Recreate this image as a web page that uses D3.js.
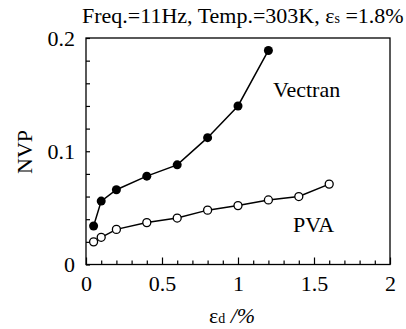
<!DOCTYPE html>
<html><head><meta charset="utf-8">
<script src="https://cdn.jsdelivr.net/npm/d3@7"></script>
<style>
body{margin:0;background:#fff;}
</style></head>
<body>
<svg id="c" width="406" height="329"></svg>
<script>
const vectranX = [0.05, 0.1, 0.2, 0.4, 0.6, 0.8, 1.0, 1.2];
const vectranY = [0.034, 0.056, 0.066, 0.078, 0.088, 0.112, 0.140, 0.189];
const pvaX = [0.05, 0.1, 0.2, 0.4, 0.6, 0.8, 1.0, 1.2, 1.4, 1.6];
const pvaY = [0.020, 0.024, 0.031, 0.037, 0.041, 0.048, 0.052, 0.057, 0.060, 0.071];
const xTicks = [0, 0.5, 1, 1.5, 2];
const xTickLabels = ["0", "0.5", "1", "1.5", "2"];
const yTicks = [0, 0.1, 0.2];
const yTickLabels = ["0", "0.1", "0.2"];

const FONT = "'Liberation Serif'";
const svg = d3.select("#c");
const L = 86, R = 390, T = 38, B = 264.5;
const x = d3.scaleLinear().domain([0, 2]).range([L, R]);
const y = d3.scaleLinear().domain([0, 0.2]).range([B, T]);

// frame
svg.append("rect").attr("x", L).attr("y", T).attr("width", R - L).attr("height", B - T)
  .attr("fill", "none").attr("stroke", "#000").attr("stroke-width", 1.3);

// x axis ticks (inward)
const xMinor = d3.range(0, 2.0001, 0.1);
const gx = svg.append("g").attr("transform", `translate(0,${B})`)
  .call(d3.axisBottom(x).tickValues(xMinor).tickSize(-4).tickFormat(""));
gx.select(".domain").remove();
gx.selectAll(".tick line").attr("stroke", "#000").attr("stroke-width", 1.2)
  .attr("y2", (d) => (Math.abs(d * 2 - Math.round(d * 2)) < 1e-6 ? -7 : -4));
const gxl = svg.append("g").attr("transform", `translate(0,${B})`)
  .call(d3.axisBottom(x).tickValues(xTicks).tickSize(0).tickPadding(11)
    .tickFormat((d, i) => xTickLabels[i]));
gxl.select(".domain").remove();
gxl.attr("font-family", FONT).attr("font-size", 22);
gxl.selectAll("text").style("font-size", "22px").style("font-family", FONT).attr("fill", "#000");

// y axis ticks
const yMinor = d3.range(0, 0.2001, 0.02);
const gy = svg.append("g").attr("transform", `translate(${L},0)`)
  .call(d3.axisLeft(y).tickValues(yMinor).tickSize(-4).tickFormat(""));
gy.select(".domain").remove();
gy.selectAll(".tick line").attr("stroke", "#000").attr("stroke-width", 1.2);
const gyl = svg.append("g").attr("transform", `translate(${L},0)`)
  .call(d3.axisLeft(y).tickValues(yTicks).tickSize(0).tickPadding(11)
    .tickFormat((d, i) => yTickLabels[i]));
gyl.select(".domain").remove();
gyl.attr("font-family", FONT).attr("font-size", 22);
gyl.selectAll("text").style("font-size", "22px").style("font-family", FONT).attr("fill", "#000");

// lines
const line = d3.line().x(d => x(d[0])).y(d => y(d[1]));
const vData = vectranX.map((v, i) => [v, vectranY[i]]);
const pData = pvaX.map((v, i) => [v, pvaY[i]]);
svg.append("path").datum(vData).attr("d", line).attr("fill", "none")
  .attr("stroke", "#000").attr("stroke-width", 1.5);
svg.append("path").datum(pData).attr("d", line).attr("fill", "none")
  .attr("stroke", "#000").attr("stroke-width", 1.5);
svg.selectAll(".pv").data(pData).enter().append("circle")
  .attr("cx", d => x(d[0])).attr("cy", d => y(d[1])).attr("r", 4)
  .attr("fill", "#fff").attr("stroke", "#000").attr("stroke-width", 1.3);
svg.selectAll(".vv").data(vData).enter().append("circle")
  .attr("cx", d => x(d[0])).attr("cy", d => y(d[1])).attr("r", 4.5)
  .attr("fill", "#000");

function txt(sel) { return sel.style("font-family", FONT).attr("fill", "#000"); }

// series labels
txt(svg.append("text")).attr("x", 273).attr("y", 97).style("font-size", "22px").text("Vectran");
txt(svg.append("text")).attr("x", 293).attr("y", 232).style("font-size", "22px").text("PVA");

// axis titles
txt(svg.append("text")).attr("transform", "translate(32,152) rotate(-90)")
  .attr("text-anchor", "middle").style("font-size", "22px").text("NVP");
const xt = txt(svg.append("text")).attr("x", 232).attr("y", 323).attr("text-anchor", "middle").style("font-size", "22px");
xt.append("tspan").text("ε");
xt.append("tspan").style("font-size", "14px").text("d");
xt.append("tspan").style("font-style", "italic").text(" /%");

// title
const tt = txt(svg.append("text")).attr("x", 82).attr("y", 23).style("font-size", "22px");
tt.append("tspan").text("Freq.=11Hz, Temp.=303K, ε");
tt.append("tspan").style("font-size", "14px").text("s");
tt.append("tspan").text(" =1.8%");
</script>
</body></html>
